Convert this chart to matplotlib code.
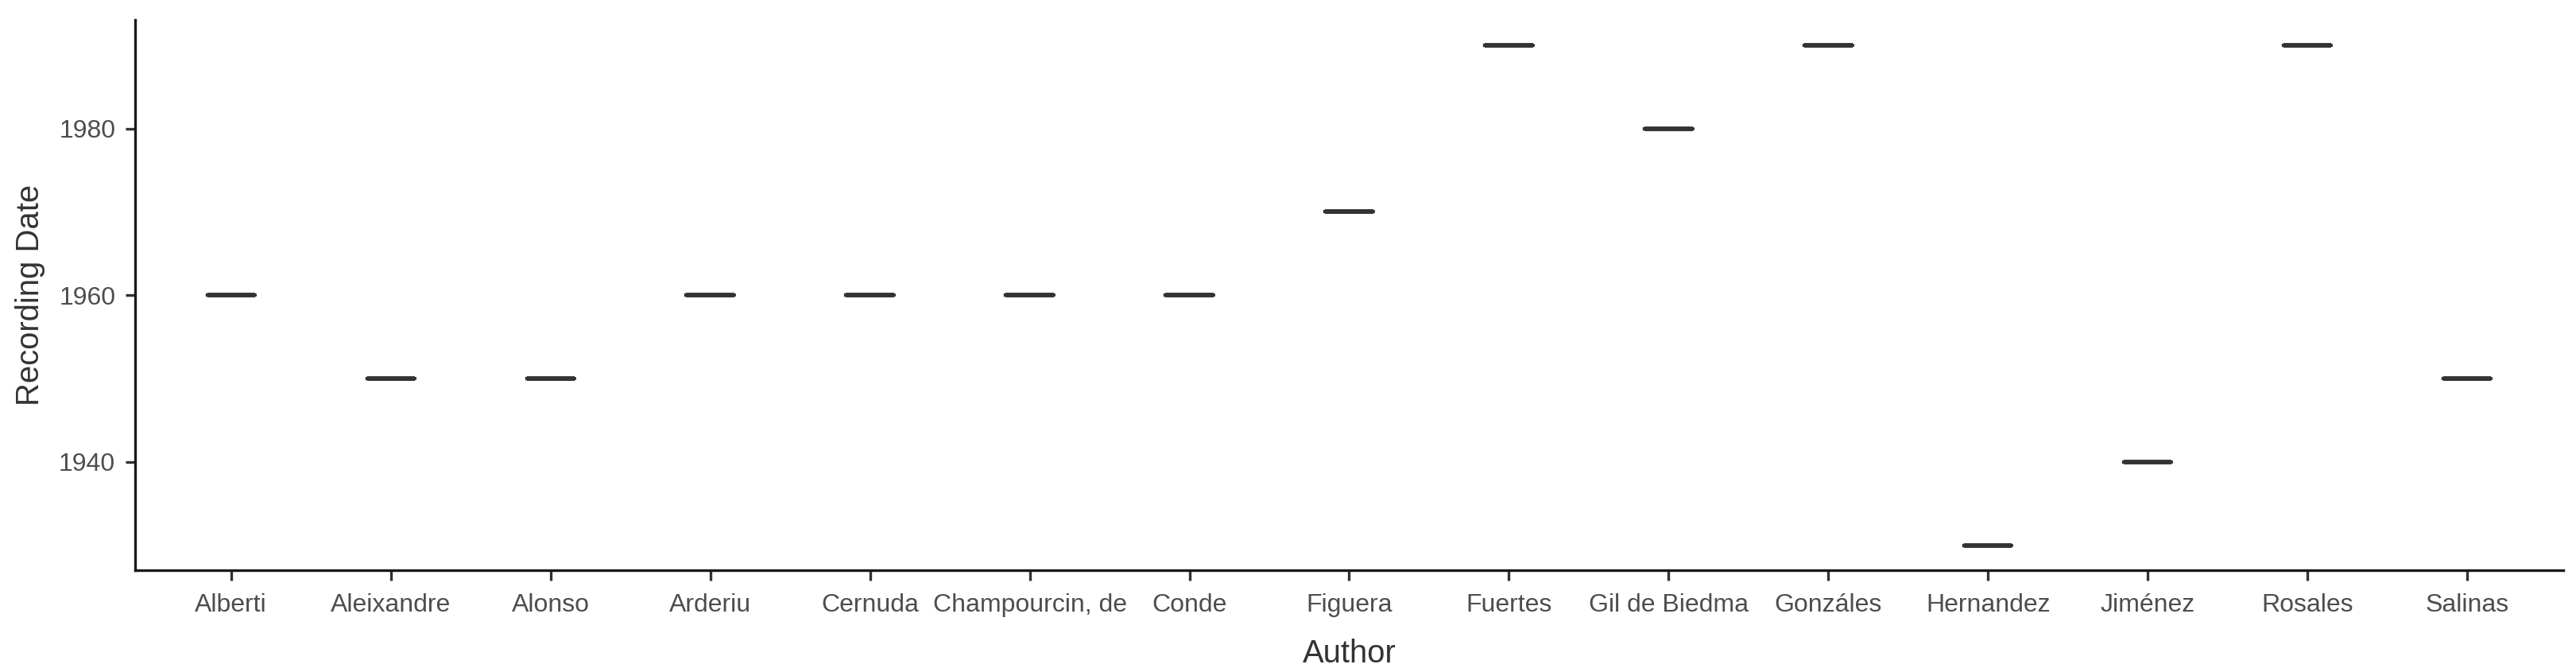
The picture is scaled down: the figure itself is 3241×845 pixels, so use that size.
import matplotlib
matplotlib.use("Agg")
import matplotlib.pyplot as plt
import numpy as np

authors = ["Alberti", "Aleixandre", "Alonso", "Arderiu", "Cernuda",
           "Champourcin, de", "Conde", "Figuera", "Fuertes", "Gil de Biedma",
           "Gonzáles", "Hernandez", "Jiménez", "Rosales", "Salinas"]
recording_date = [1960, 1950, 1950, 1960, 1960,
                  1960, 1960, 1970, 1990, 1980,
                  1990, 1930, 1940, 1990, 1950]
y_ticks = [1940, 1960, 1980]

plt.rcParams['font.family'] = ['Liberation Sans', 'DejaVu Sans']

fig = plt.figure(figsize=(3241/300, 845/300), dpi=300)
ax = fig.add_axes([0.0525, 0.1515, 0.9425, 0.8185])

pos = np.arange(1, len(authors) + 1)
ax.boxplot([[v] for v in recording_date], positions=pos, widths=0.3,
           showfliers=False, showcaps=False, patch_artist=False,
           boxprops=dict(color="#333333", linewidth=1.0),
           whiskerprops=dict(color="#333333", linewidth=1.0),
           medianprops=dict(color="#333333", linewidth=1.4, solid_capstyle="butt"))

ax.set_xlim(0.4, len(authors) + 0.6)
ax.set_ylim(1927, 1993)
ax.set_xticks(pos)
ax.set_xticklabels(authors)
ax.set_yticks(y_ticks)

for s in ["top", "right"]:
    ax.spines[s].set_visible(False)
for s in ["left", "bottom"]:
    ax.spines[s].set_color("#1a1a1a")
    ax.spines[s].set_linewidth(0.8)

ax.tick_params(axis="both", colors="#333333", labelcolor="#4D4D4D",
               labelsize=7.7, length=3, width=0.8)
ax.tick_params(axis="x", pad=4)
ax.tick_params(axis="y", pad=3)

ax.set_xlabel("Author", fontsize=9.6, color="#333333", labelpad=6.5)
ax.set_ylabel("Recording Date", fontsize=9.6, color="#333333", labelpad=4)

fig.savefig("out.png", dpi=300)
